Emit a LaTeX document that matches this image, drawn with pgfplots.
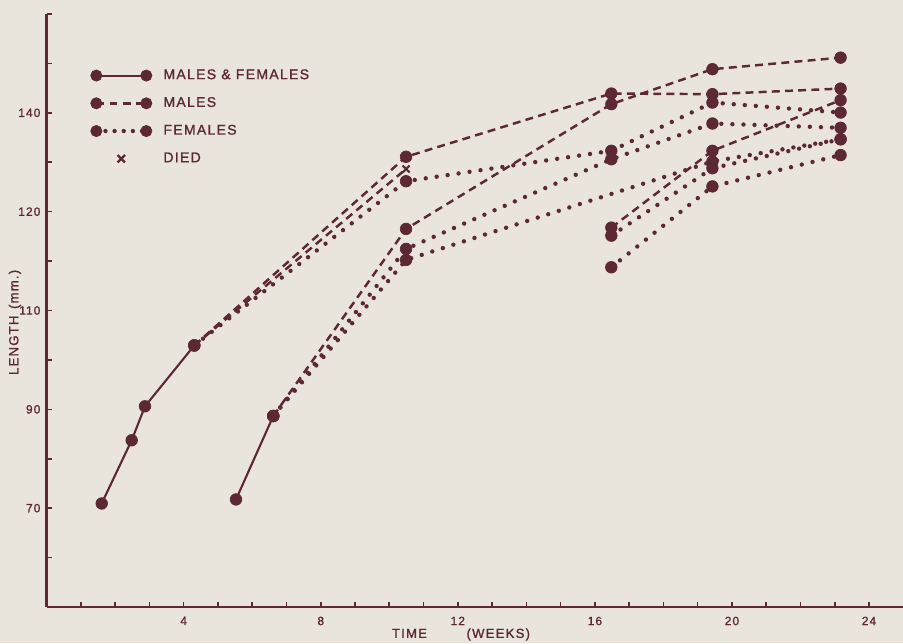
\documentclass[border=0pt]{standalone}
\usepackage{pgfplots}
\pgfplotsset{compat=1.18}
\usepackage{fontspec}
\setmainfont{Liberation Sans}
\newfontfamily\lbl[LetterSpace=9, FakeBold=1.2]{Liberation Sans}
\definecolor{ink}{RGB}{92,40,52}
\definecolor{paper}{RGB}{233,229,221}
\pgfplotsset{
  mk/.style={mark=*, mark size=3.3pt, mark options={solid, fill=ink, draw=ink, line width=0.4pt}},
  lineleg/.style={legend image code/.code={
    \draw[##1] plot[mark=*, mark size=3.2pt, mark options={solid, fill=ink, draw=ink, line width=0.4pt}] coordinates {(0cm,0cm) (1cm,0cm)};}},
  sol/.style={ink, line width=1.2pt, mk},
  dsh/.style={ink, line width=1.4pt, dash pattern=on 4.5pt off 3pt, mk},
  dot/.style={ink, line width=2.5pt, line cap=round, dash pattern=on 0pt off 6.3pt, mk},
}
\begin{document}
\begin{tikzpicture}
\fill[paper] (-0.932,-0.72) rectangle (17.128,12.14);
\begin{axis}[
  at={(0,0)}, anchor=south west,
  scale only axis, width=17.134cm, height=11.86cm,
  xmin=0, xmax=25, ymin=50, ymax=170,
  clip=false,
  axis x line=bottom, axis y line=left,
  axis line style={-, ink, line width=1.3pt},
  every outer x axis line/.append style={-},
  every outer y axis line/.append style={-},
  tick align=inside,
  major tick length=2.8pt, minor tick length=2.8pt,
  every tick/.style={ink, line width=0.9pt},
  xtick={4,8,...,24}, minor xtick={1,...,25},
  ytick={70,90,110,130,150}, yticklabels={70,90,110,120,140},
  minor ytick={60,80,100,120,140,160,170},
  ticklabel style={font=\lbl\fontsize{6.8}{8}\selectfont, text=ink},
  /pgf/number format/assume math mode=true,
  xticklabel style={yshift=-2pt},
  xlabel={TIME\hspace{3.0em}(WEEKS)},
  ylabel={LENGTH\enspace(mm.)},
  label style={font=\lbl\fontsize{7.5}{9}\selectfont, text=ink},
  x label style={at={(axis description cs:0.4837,0)}, anchor=center, yshift=-0.55cm},
  y label style={at={(axis description cs:-0.037,0.48)}, anchor=center},
  legend cell align=left,
  legend style={draw=none, fill=none, inner sep=0pt,
    at={(axis cs:1.41,157.7)}, anchor=north west, xshift=-2.6pt, yshift=3.3pt,
    font=\lbl\fontsize{8}{9.6}\selectfont, text=ink, row sep=8.7pt,
    nodes={inner sep=0pt},
    /tikz/every odd column/.append style={column sep=0.23cm}},
]
\addlegendimage{lineleg, ink, line width=1.2pt}
\addlegendentry{MALES \& FEMALES}
\addlegendimage{lineleg, ink, line width=1.4pt, dash pattern=on 4.5pt off 3pt}
\addlegendentry{MALES}
\addlegendimage{lineleg, ink, line width=2.5pt, line cap=round, dash pattern=on 0pt off 5.2pt}
\addlegendentry{FEMALES}
\addlegendimage{legend image code/.code={\draw[ink, line width=1.3pt] plot[mark=x, mark size=3pt] coordinates {(0.5cm,0cm)};}}
\addlegendentry{DIED}

% males & females (solid)
\addplot[sol, forget plot] coordinates {(1.608,70.95) (2.483,83.74) (2.871,90.61) (4.310,102.93)};
\addplot[sol, forget plot] coordinates {(5.527,71.76) (6.615,88.65)};
% males (dashed)
\addplot[dsh, forget plot] coordinates {(4.310,102.93) (10.49,141.11) (16.48,153.90) (19.43,153.78) (23.17,154.91)};
\addplot[dsh, mark=none, forget plot] coordinates {(4.310,102.93) (10.49,138.63)};
\addplot[dsh, forget plot] coordinates {(6.615,88.65) (10.49,126.51) (16.48,151.76) (19.43,158.83) (23.17,161.17)};
\addplot[dsh, forget plot] coordinates {(16.48,126.77) (19.43,142.32) (23.17,152.57)};
% females (dotted)
\addplot[dot, forget plot] coordinates {(4.310,102.93) (10.49,136.16) (16.48,142.32) (19.43,152.08) (23.17,150.06)};
\addplot[dot, forget plot] coordinates {(6.615,88.65) (10.49,122.46) (16.48,140.61) (19.43,147.84) (23.17,146.97)};
\addplot[dot, forget plot] coordinates {(6.615,88.65) (10.49,120.24) (19.43,140.16) (23.17,144.65)};
\addplot[dot, forget plot] coordinates {(16.48,125.15) (19.43,138.79) (23.17,144.65)};
\addplot[dot, forget plot] coordinates {(16.48,118.75) (19.43,135.11) (23.17,141.45)};
% died
\addplot[only marks, mark=x, mark size=2.8pt, ink, line width=1.2pt, forget plot] coordinates {(10.49,138.63)};
\end{axis}
\pgfresetboundingbox
\useasboundingbox (-0.932,-0.72) rectangle (17.128,12.14);
\end{tikzpicture}
\end{document}
